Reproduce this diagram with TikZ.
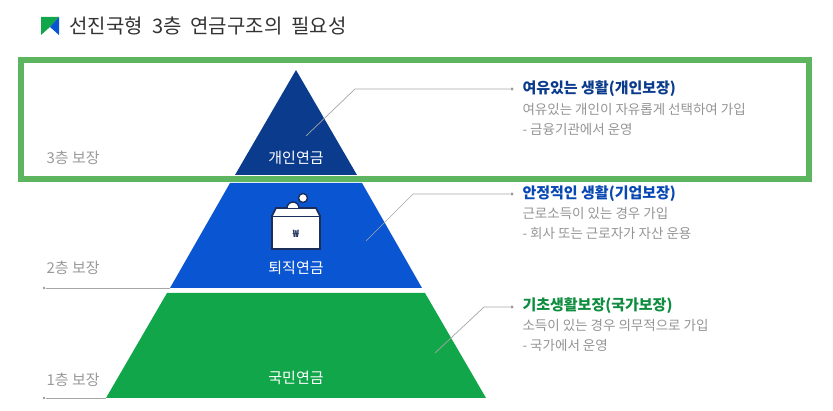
\documentclass[tikz,border=0pt]{standalone}
\usepackage{fontspec}
\setmainfont{Noto Sans CJK KR}
\begin{document}
\begin{tikzpicture}[x=1pt,y=-1pt,
 tier/.style={text=white,font=\fontsize{15}{15}\selectfont},
 lvl/.style={text=black!40,font=\fontsize{15}{15}\selectfont,anchor=west},
 head/.style={anchor=west,font=\fontsize{15}{15}\selectfont\bfseries},
 desc/.style={anchor=west,text=black!42,font=\fontsize{13.5}{13.5}\selectfont},
 lead/.style={draw=black!35,line width=0.7pt},
 dotc/.style={fill=black!40,circle,inner sep=1.1pt}]
\useasboundingbox (0,0) rectangle (833,411);
\definecolor{navy}{HTML}{0B3B8C}\definecolor{mid}{HTML}{0A55D1}\definecolor{grn}{HTML}{12A64A}
\definecolor{frame}{HTML}{5DB65F}\definecolor{ink}{HTML}{1B2E5A}
% title
\fill[grn] (41,17) -- (59,17) -- (50,27) -- (41,35) -- cycle;
\fill[mid] (50,27) -- (59,35) -- (59,17) -- cycle;
\node[anchor=west,text=black!80,font=\fontsize{20}{20}\selectfont] (title) at (66,26) {선진국형\ \ 3층\ \ 연금구조의\ \ 필요성};
% pyramid
\fill[navy] (296,70) -- (357,175) -- (235,175) -- cycle;
\fill[mid] (230,183) -- (362,183) -- (422,288) -- (170,288) -- cycle;
\fill[grn] (167,293) -- (425,293) -- (486,398) -- (106,398) -- cycle;
\draw[frame,line width=6pt] (21,60) rectangle (809,179);
\node[tier] (t3) at (296,158) {개인연금};
\node[tier] (t2) at (296,268) {퇴직연금};
\node[tier] (t1) at (296,378) {국민연금};
% box icon
\draw[ink,line width=1.6pt,fill=white] (272,216) rectangle (320,249);
\draw[ink,line width=1.6pt,fill=white] (272,216) -- (276,208) -- (316,208) -- (320,216);
\draw[ink,line width=1.4pt,fill=white] (287,208) arc[start angle=180,end angle=0,radius=6pt];
\draw[ink,line width=1.4pt,fill=white] (303,198) circle[radius=4.5pt];
\node[text=ink,font=\fontsize{10}{10}\selectfont\bfseries] (won) at (296,234) {₩};
% left labels
\node[lvl] (l3) at (43,158) {3층 보장};
\node[lvl] (l2) at (43,268) {2층 보장};
\node[lvl] (l1) at (43,380) {1층 보장};
\node[dotc,inner sep=1pt] (d2) at (44,288) {};
\node[dotc,inner sep=1pt] (d1) at (44,398) {};
\draw[lead] (d2) -- (170,288);
\draw[lead] (d1) -- (106,398);
% callouts
\node[dotc] (c3) at (512,89) {};
\node[dotc] (c2) at (512,194) {};
\node[dotc] (c1) at (512,307) {};
\draw[lead] (306,136) -- (355,89) -- (c3);
\draw[lead] (366,241) -- (413,194) -- (c2);
\draw[lead] (435,353) -- (484,307) -- (c1);
\node[head,text=navy] (h3) at (519,89) {여유있는 생활(개인보장)};
\node[desc] (a3) at (519,109) {여유있는 개인이 자유롭게 선택하여 가입};
\node[desc] (b3) at (519,129) {- 금융기관에서 운영};
\node[head,text=mid!85!black] (h2) at (519,194) {안정적인 생활(기업보장)};
\node[desc] (a2) at (519,213) {근로소득이 있는 경우 가입};
\node[desc] (b2) at (519,233) {- 회사 또는 근로자가 자산 운용};
\node[head,text=grn!85!black] (h1) at (519,306) {기초생활보장(국가보장)};
\node[desc] (a1) at (519,325) {소득이 있는 경우 의무적으로 가입};
\node[desc] (b1) at (519,345) {- 국가에서 운영};
\end{tikzpicture}
\end{document}
